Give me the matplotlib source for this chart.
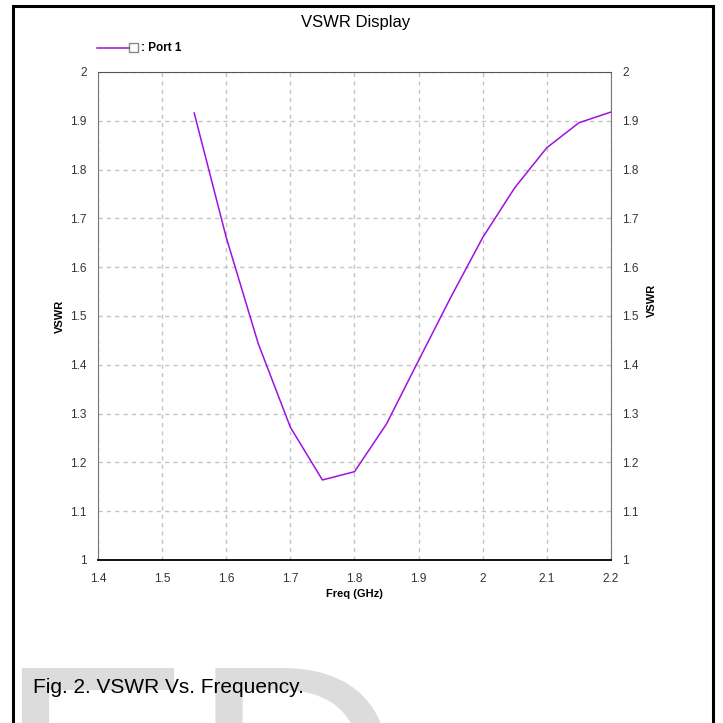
import numpy as np
import matplotlib.pyplot as plt
from matplotlib.lines import Line2D
from matplotlib.patches import Rectangle

# VSWR of port 1
freq = [1.55, 1.6, 1.65, 1.7, 1.75, 1.8, 1.85, 1.9, 1.95, 2.0, 2.05, 2.1, 2.15, 2.2]
vswr = [1.916, 1.661, 1.443, 1.272, 1.164, 1.181, 1.279, 1.409, 1.538, 1.661,
        1.763, 1.845, 1.896, 1.918]
xticks = [1.4, 1.5, 1.6, 1.7, 1.8, 1.9, 2.0, 2.1, 2.2]
xticklabels = ['1.4', '1.5', '1.6', '1.7', '1.8', '1.9', '2', '2.1', '2.2']
yticks = [1.0, 1.1, 1.2, 1.3, 1.4, 1.5, 1.6, 1.7, 1.8, 1.9, 2.0]
yticklabels = ['1', '1.1', '1.2', '1.3', '1.4', '1.5', '1.6', '1.7', '1.8', '1.9', '2']

plt.rcParams['font.family'] = ['Liberation Sans', 'DejaVu Sans']

W = H = 723
fig = plt.figure(figsize=(7.23, 7.23), dpi=100)

def px(x, y):
    # pixel coords (from top-left) -> figure fraction
    return x / W, 1 - y / H

# light watermark letters behind everything
wx, wy = px(-3, 869)
fig.text(wx, wy, 'ED', fontsize=210, color='#dcdcdc', ha='left', va='baseline', zorder=0)

ax = fig.add_axes([98 / W, 1 - 560 / H, (611 - 98) / W, (560 - 72) / H])
ax.set_facecolor('none')
ax.plot(freq, vswr, color='#a010e0', lw=1.1)

ax.set_xlim(1.4, 2.2)
ax.set_ylim(1.0, 2.0)
ax.set_xticks(xticks)
ax.set_xticklabels(xticklabels)
ax.set_yticks(yticks)
ax.set_yticklabels(yticklabels)
ax.grid(True, color='#c4c4c4', linestyle=(0, (3, 3)), lw=1)
ax.tick_params(length=0, labelsize=8.5, labelcolor='#333333', pad=9)
ax.tick_params(axis='y', right=False, labelright=True, pad=8)

ax.spines['bottom'].set_color('black')
ax.spines['bottom'].set_linewidth(1.3)
ax.spines['top'].set_color('#555555')
ax.spines['left'].set_color('#777777')
ax.spines['right'].set_color('#777777')

ax.set_xlabel('Freq (GHz)', fontsize=8, fontweight='bold', labelpad=3)
ax.set_ylabel('VSWR', fontsize=8, fontweight='bold', labelpad=4)
lx, ly = px(652, 300)
fig.text(lx, ly, 'VSWR', fontsize=8, fontweight='bold', rotation=90, ha='center', va='center')

# title
tx, ty = px(356, 27)
fig.text(tx, ty, 'VSWR Display', fontsize=12, ha='center', va='baseline')

# legend
x0, y0 = px(97, 48)
x1, _ = px(129, 48)
fig.add_artist(Line2D([x0, x1], [y0, y0], color='#a010e0', lw=1.1))
sx, sy = px(129, 52)
fig.add_artist(Rectangle((sx, sy), 9 / W, 9 / H, facecolor='white',
                         edgecolor='#8a8a7a', lw=1))
fx, fy = px(141, 48)
fig.text(fx, fy, ': Port 1', fontsize=8.5, fontweight='bold', ha='left', va='center')

# caption
cx, cy = px(33, 693)
fig.text(cx, cy, 'Fig. 2. VSWR Vs. Frequency.', fontsize=15, ha='left', va='baseline')

# page frame
bx0, by0 = px(13, 740)
fig.add_artist(Rectangle((bx0, by0), (713 - 13) / W, (740 - 6) / H, facecolor='none',
                         edgecolor='black', lw=2.2))

fig.savefig('out.png', dpi=100)
